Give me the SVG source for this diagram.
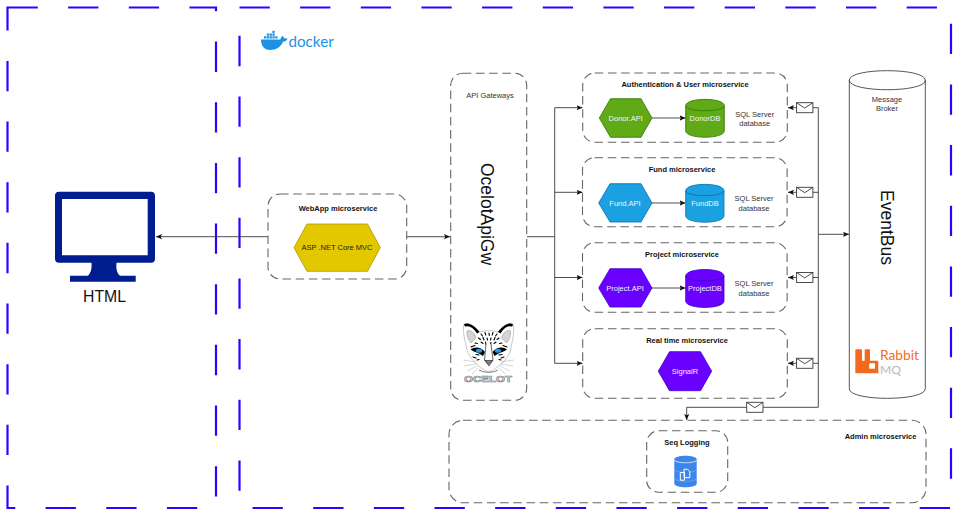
<svg xmlns="http://www.w3.org/2000/svg" width="959" height="516" viewBox="0 0 959 516">
<style>
text{font-family:"Liberation Sans",Arial,sans-serif;font-size:7.5px;fill:#222;text-anchor:middle}
.t{font-weight:bold;fill:#111}
.w{fill:#f4f4f4}
.g{fill:#333}
.box{fill:none;stroke:#666;stroke-width:1.1;stroke-dasharray:8.6 4.6}
.frame{fill:none;stroke:#3300ff;stroke-width:2.2;stroke-dasharray:30.3 30.35}
.c{fill:none;stroke:#3a3a3a;stroke-width:.9}
.a{marker-end:url(#arr)}
.env{fill:#fff;stroke:#3a3a3a;stroke-width:.9}
.big{font-size:17.5px;fill:#111}
</style>
<defs>
<marker id="arr" markerUnits="userSpaceOnUse" markerWidth="7" markerHeight="6" refX="6" refY="3" orient="auto">
<path d="M0 .4L6 3L0 5.6L1.3 3Z" fill="#111"/>
</marker>
<g id="envelope">
<rect class="env" x="0" y="0" width="16.3" height="10"/>
<path class="c" d="M0 0L8.1 5.4L16.3 0"/>
</g>
</defs>
<rect width="959" height="516" fill="#fff"/>
<g id="frames">
<rect class="frame" x="7.5" y="7.5" width="208.5" height="500.5"/>
<rect class="frame" x="239.5" y="7.5" width="711.5" height="500.5"/>
</g>
<g id="connectors">
<path class="c a" d="M268 236.7H156"/>
<path class="c a" d="M406.7 236.7H450"/>
<path class="c" d="M527 236.7H554.7M554.7 107.7V363.3"/>
<path class="c a" d="M554.7 107.7H582.5"/>
<path class="c a" d="M554.7 192.3H582.5"/>
<path class="c a" d="M554.7 277.5H582.5"/>
<path class="c a" d="M554.7 363.3H582.5"/>
<path class="c a" d="M652 118H685.5"/>
<path class="c a" d="M652 203H685.5"/>
<path class="c a" d="M652 288H685.5"/>
<path class="c" d="M818.3 107.7V407.3"/>
<path class="c a" d="M818.3 107.7H788"/>
<path class="c a" d="M818.3 192.3H788"/>
<path class="c a" d="M818.3 277.5H788"/>
<path class="c a" d="M818.3 363.3H788"/>
<path class="c a" d="M818.3 234.3H849"/>
<path class="c a" d="M818.3 407.3H686.7V420"/>
<use href="#envelope" x="796.6" y="102.7"/>
<use href="#envelope" x="796.6" y="187.3"/>
<use href="#envelope" x="796.6" y="272.5"/>
<use href="#envelope" x="796.6" y="358.3"/>
<use href="#envelope" x="746.7" y="402.3"/>
</g>
<g id="html">
<path fill="#001d8f" fill-rule="evenodd" d="M59 191.7H151a4 4 0 0 1 4 4V258.7a4 4 0 0 1-4 4H116.500C116 268 116.500 273 120 275.700H135.700V281.700H70V275.700H88C91 273 92 268 91.500 262.700H59a4 4 0 0 1-4-4V195.700a4 4 0 0 1 4-4ZM62 199V255.300H147.700V199Z"/>
<text x="104.5" y="302" style="font-size:15.8px;fill:#111">HTML</text>
</g>
<g id="webapp">
<rect class="box" x="268" y="194" width="138.7" height="85" rx="12"/>
<text class="t" x="338" y="211">WebApp microservice</text>
<path d="M307 224H367.5L380.3 247.6L367.5 271.3H307L294 247.6Z" fill="#e3c800" stroke="#b09500" stroke-width=".8"/>
<text x="337" y="250">ASP .NET Core MVC</text>
</g>
<g id="gateway">
<rect class="box" x="450.7" y="73.3" width="76" height="327" rx="12"/>
<text x="490" y="98" class="g">API Gateways</text>
<text class="big" transform="translate(481,214) rotate(90)">OcelotApiGw</text>
</g>
<g id="ocelot-logo">
<path d="M464 324C468 321.5 475 326 479.5 332C484 330.3 493 330.3 498 332C502.500 326 510 321.500 513 324C515 332 512 342 510.500 350C509 358 498 368.500 488.700 372C479.500 368.500 469 358 467 350C465.500 342 462 332 464 324Z" fill="#fff" stroke="#777" stroke-width=".4"/>
<path d="M464 324.500C468 321.500 475 326 479.500 332L477 333.500C474 329 470 325.500 466 326.500C465.500 327 464 325.500 464 324.500ZM513 324.500C509.500 321.500 502.500 326 498 332L500.500 333.500C503.500 329 507 325.500 511 326.500C512 327 513 325.500 513 324.500Z" fill="#000"/>
<path d="M467 331C470 329 475 333 476 338L471 343C468 340 466.500 335 467 331ZM510.500 331C507.500 329 502.500 333 501.500 338L506.500 343C509.500 340 511 335 510.500 331Z" fill="#d4d4d4" stroke="#777" stroke-width=".4"/>
<path d="M481 334l1.500 2M485 332.500l.8 2.500M489 333l.3 2.500M493 332.500l-.8 2.500M497 334l-1.500 2M478.500 338l2 1.500M483 337.500l1 2.500M487 338l.5 2M491 338l-.5 2M495 337.500l-1 2.500M499 338l-2 1.500M481 342l2 1.500M485.500 342l.5 2.500M491 342.500l-.5 2M496 342l-2 1.500M475 343l2.500 .5M502 343l-2.500 .5M471 347l4 -1.500M507 347l-4 -1.500M473 357l3 1M504 357l-3 1M477 360l2 -.5M501 360l-2 -.5M476 354.500l3 .5M502 354.500l-3 .5" stroke="#000" stroke-width="1.100" stroke-linecap="round" fill="none"/>
<path d="M470.500 349.500C474 346.500 481 346.500 485 352L483 356C479 353 474 352 470.500 349.500ZM507 349.500C503.500 346.500 497 346.500 492.500 352L494.500 356C498.500 353 503.500 352 507 349.500Z" fill="#000"/>
<ellipse cx="479" cy="350.800" rx="3.200" ry="2" fill="#1e9be6"/>
<ellipse cx="498" cy="350.800" rx="3.200" ry="2" fill="#1e9be6"/>
<path d="M486 344L484.500 360L489 366L493 360L491 344" fill="#fff" stroke="#222" stroke-width=".7"/>
<path d="M485 360.500H492.500L488.700 364.500Z" fill="#888" stroke="#111" stroke-width=".6"/>
<path d="M479 370C484 373 493 373 498 370" fill="none" stroke="#444" stroke-width=".7"/>
<path d="M476 362L463 360M476 364L464 366M477 366L467 371M478 368L472 374M501 362L514 360M501 364L513 366M500 366L510 371M499 368L505 374" stroke="#aaa" stroke-width=".5" fill="none"/>
<text x="488" y="381.700" textLength="48" lengthAdjust="spacingAndGlyphs" style="font-size:9.300px;font-weight:bold;fill:#e4e4e4;stroke:#808080;stroke-width:.6">OCELOT</text>
</g>
<g id="auth">
<rect class="box" x="582.700" y="73" width="204.600" height="69.300" rx="12"/>
<text class="t" x="685" y="87">Authentication &amp; User microservice</text>
<path d="M610.500 98.700H641L652 118L641 137.300H610.500L599.300 118Z" fill="#60a917" stroke="#2d7600" stroke-width=".8"/>
<text class="w" x="625.700" y="120.500">Donor.API</text>
<path d="M685.700 105.800C685.700 97.200 724.300 97.200 724.300 105.800V130.800C724.300 139.400 685.700 139.400 685.700 130.800Z" fill="#60a917" stroke="#2d7600" stroke-width=".8"/>
<path d="M685.700 105.800C685.700 112.300 724.300 112.300 724.300 105.800" fill="none" stroke="#2d7600" stroke-width=".8"/>
<text class="w" x="705" y="120.500">DonorDB</text>
<text class="g" x="754.700" y="116.500">SQL Server</text>
<text class="g" x="754.700" y="126">database</text>
</g>
<g id="fund">
<rect class="box" x="582.500" y="157.700" width="204.600" height="69" rx="12"/>
<text class="t" x="682" y="172">Fund microservice</text>
<path d="M610 183.700H641L652 203L641 222H610L598.700 203Z" fill="#1ba1e2" stroke="#006eaf" stroke-width=".8"/>
<text class="w" x="625" y="205.500">Fund.API</text>
<path d="M685.700 190.800C685.700 182.200 724 182.200 724 190.800V215.800C724 224.400 685.700 224.400 685.700 215.800Z" fill="#1ba1e2" stroke="#006eaf" stroke-width=".8"/>
<path d="M685.700 190.800C685.700 197.300 724 197.300 724 190.800" fill="none" stroke="#006eaf" stroke-width=".8"/>
<text class="w" x="705" y="205.500">FundDB</text>
<text class="g" x="754" y="201">SQL Server</text>
<text class="g" x="754" y="210.500">database</text>
</g>
<g id="project">
<rect class="box" x="582.500" y="242.700" width="204.600" height="69.600" rx="12"/>
<text class="t" x="682" y="257">Project microservice</text>
<path d="M610 268.700H641L652 288L641 307H610L598.700 288Z" fill="#6a00ff" stroke="#3700cc" stroke-width=".8"/>
<text class="w" x="625" y="290.500">Project.API</text>
<path d="M685.700 276C685.700 267.400 724 267.400 724 276V301C724 309.600 685.700 309.600 685.700 301Z" fill="#6a00ff" stroke="#3700cc" stroke-width=".8"/>
<path d="M685.700 276C685.700 282.500 724 282.500 724 276" fill="none" stroke="#3700cc" stroke-width=".8"/>
<text class="w" x="705" y="291">ProjectDB</text>
<text class="g" x="754" y="286">SQL Server</text>
<text class="g" x="754" y="295.500">database</text>
</g>
<g id="realtime">
<rect class="box" x="582.700" y="328.700" width="204.600" height="69.600" rx="12"/>
<text class="t" x="687" y="343">Real time microservice</text>
<path d="M669.500 351.700H700.500L711.700 371.200L700.500 390.700H669.500L658.300 371.200Z" fill="#6a00ff" stroke="#3700cc" stroke-width=".8"/>
<text class="w" x="685" y="373.700">SignalR</text>
</g>
<g id="eventbus">
<path d="M849.300 80.200C849.300 67.500 925.300 67.500 925.300 80.200V388.800C925.300 401.500 849.300 401.500 849.300 388.800Z" fill="#fff" stroke="#444" stroke-width=".9"/>
<path d="M849.300 80.200C849.300 92.900 925.300 92.900 925.300 80.200" fill="none" stroke="#444" stroke-width=".9"/>
<text class="g" x="887" y="101.500">Message</text>
<text class="g" x="887" y="110.500">Broker</text>
<text class="big" transform="translate(881,227.500) rotate(90)">EventBus</text>
</g>
<g id="rabbitmq-logo">
<path fill="#f5691f" fill-rule="evenodd" d="M855.300 350.300a1 1 0 0 1 1-1H861a1 1 0 0 1 1 1V360.700H864.700V350.300a1 1 0 0 1 1-1H869a1 1 0 0 1 1 1V360.700H877a1.300 1.300 0 0 1 1.300 1.300V373.300H855.300ZM869.200 363.300V368.800H875V363.300Z"/>
<text x="880" y="359.500" textLength="39" lengthAdjust="spacingAndGlyphs" style="text-anchor:start;font-family:'Lato','Liberation Sans',sans-serif;font-size:13px;fill:#f5691f">Rabbit</text>
<text x="880" y="374" textLength="21" lengthAdjust="spacingAndGlyphs" style="text-anchor:start;font-family:'Lato','Liberation Sans',sans-serif;font-size:12px;fill:#b8b8b8">MQ</text>
</g>
<g id="admin">
<rect class="box" x="449" y="420.300" width="477" height="82.400" rx="14"/>
<text class="t" x="880.500" y="439">Admin microservice</text>
</g>
<g id="seq">
<rect class="box" x="646.700" y="430.700" width="81" height="61.600" rx="12"/>
<text class="t" x="687" y="445">Seq Logging</text>
<path d="M674.300 459.500C674.300 454.500 696.700 454.500 696.700 459.500V483.500C696.700 488.500 674.300 488.500 674.300 483.500Z" fill="#3b86e8"/>
<path d="M674.300 460.500C678 463.500 693 463.500 696.700 460.500" fill="none" stroke="#fff" stroke-width=".7"/>
<path d="M674.300 470C678 473 693 473 696.700 470M674.300 479C678 482 693 482 696.700 479" fill="none" stroke="#8db8f2" stroke-width=".5"/>
<path d="M680.300 472.500H684.500V480.200H680.300ZM684 469.300H687.500L689.800 471.500V477.700H684Z" fill="#3b86e8" stroke="#fff" stroke-width="1"/>
</g>
<g id="docker-logo">
<path fill="#1d91e6" d="M261 39.500H280.300C281 37.500 281.500 36.500 282.500 36C283.500 36.800 284 37.500 284.300 38.500C285.500 38 286.500 38 287.500 38.700C286.700 40.700 285 41.500 283.200 41.500C281 46.500 276.500 50 270 50C264 50 261 45.500 261 39.500Z"/>
<path fill="#1d91e6" d="M264 36.200h2.300v2.300h-2.300zM266.800 36.200h2.300v2.300h-2.300zM269.600 36.200h2.300v2.300h-2.300zM272.400 36.200h2.300v2.300h-2.300zM275.200 36.200h2.300v2.300h-2.300zM266.800 33.500h2.300v2.300h-2.300zM269.600 33.500h2.300v2.300h-2.300zM272.400 33.500h2.300v2.300h-2.300zM272.400 30.800h2.300v2.300h-2.300z"/>
<text x="288.500" y="47" style="text-anchor:start;font-family:'Lato','Liberation Sans',sans-serif;font-size:15.200px;fill:#1d91e6">docker</text>
</g>
</svg>
